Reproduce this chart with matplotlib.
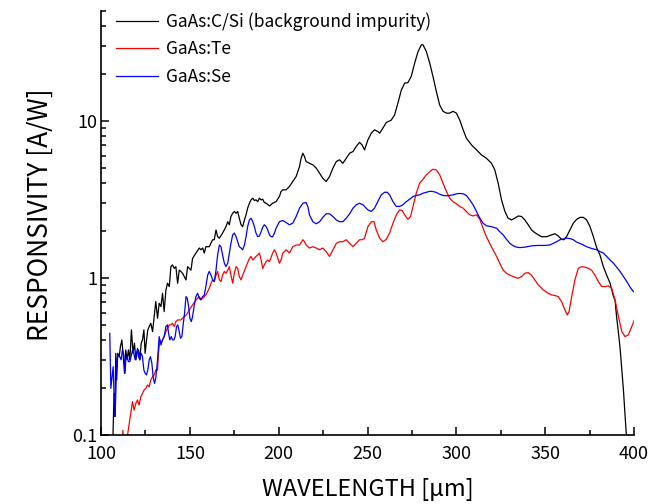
import numpy as np
import matplotlib
matplotlib.use("Agg")
import matplotlib.pyplot as plt
from matplotlib.ticker import MultipleLocator, FixedLocator, LogLocator, NullFormatter, FuncFormatter

plt.rcParams['font.family'] = ['Noto Sans CJK JP', 'DejaVu Sans']

# GaAs:C/Si (background impurity) - black
lam_csi = [106.5, 107.3, 107.7, 108.3, 108.8, 109.4, 110.2, 110.9, 111.7, 112.4, 113.2, 113.9,
           114.7, 115.4, 116.2, 117.1, 118.0, 118.8, 119.6, 120.3, 121.1, 121.8, 122.6, 123.3,
           124.1, 124.8, 125.6, 126.3, 127.1, 128.0, 129.0, 129.9, 130.8, 131.8, 132.7, 133.7,
           134.6, 135.5, 136.5, 137.4, 138.4, 139.3, 140.2, 141.2, 142.1, 143.1, 144.0, 144.9,
           145.9, 146.8, 147.8, 148.7, 149.6, 150.6, 151.5, 153.4, 155.3, 156.2, 157.2, 158.1,
           159.0, 160.9, 162.8, 163.7, 164.7, 165.6, 166.6, 168.4, 170.3, 171.3, 172.2, 173.1,
           174.1, 175.0, 176.0, 176.9, 177.8, 178.8, 179.7, 180.7, 181.6, 182.5, 183.5, 184.4,
           185.4, 186.3, 187.2, 188.2, 189.1, 190.1, 191.0, 191.9, 192.9, 194.8, 196.6, 198.5,
           200.4, 201.3, 202.3, 204.2, 206.0, 207.9, 209.8, 211.7, 212.6, 213.6, 214.5, 215.4,
           217.3, 219.2, 221.1, 223.0, 224.8, 226.7, 228.6, 230.5, 232.4, 234.2, 236.1, 238.0,
           239.9, 241.8, 243.6, 245.5, 247.0, 248.3, 250.2, 252.1, 253.9, 255.8, 256.8, 258.6,
           260.5, 263.3, 265.2, 267.1, 269.0, 270.9, 272.7, 274.6, 276.5, 278.4, 280.3, 281.2,
           283.1, 285.0, 286.8, 288.7, 290.6, 292.5, 294.4, 296.2, 298.1, 300.0, 301.9, 303.8,
           305.6, 308.5, 311.3, 314.1, 316.9, 319.7, 321.6, 323.5, 325.4, 327.3, 329.1, 331.0,
           332.9, 334.8, 336.7, 338.5, 340.4, 342.3, 344.2, 346.1, 347.9, 350.8, 353.6, 355.5,
           357.3, 359.2, 360.5, 362.0, 363.9, 365.8, 367.7, 369.6, 371.4, 373.3, 375.2, 377.1,
           379.0, 380.8, 382.7, 384.6, 386.5, 388.4, 389.3, 390.2, 391.2, 392.2, 393.0, 394.0,
           395.5, 396.2]
r_csi = [0.08, 0.184, 0.131, 0.331, 0.224, 0.331, 0.315, 0.365, 0.403, 0.331, 0.247, 0.348,
         0.301, 0.348, 0.301, 0.467, 0.331, 0.384, 0.301, 0.331, 0.348, 0.301, 0.384, 0.403,
         0.467, 0.331, 0.403, 0.467, 0.490, 0.514, 0.455, 0.567, 0.707, 0.553, 0.690, 0.657,
         0.798, 0.610, 0.839, 0.925, 0.881, 1.18, 1.21, 1.15, 1.18, 0.925, 1.12, 1.10,
         1.07, 1.02, 0.97, 1.18, 1.15, 1.12, 1.33, 1.44, 1.55, 1.51, 1.55, 1.44,
         1.58, 1.58, 1.75, 1.75, 2.02, 1.83, 1.79, 1.93, 2.12, 2.28, 2.18, 2.46,
         2.58, 2.65, 2.58, 2.65, 2.40, 2.18, 2.12, 2.34, 2.52, 2.78, 2.99, 3.14,
         3.22, 3.11, 3.14, 3.06, 3.22, 3.14, 3.17, 3.02, 2.99, 2.87, 2.99, 3.06,
         3.30, 3.55, 3.64, 3.64, 3.82, 4.11, 4.42, 5.12, 5.78, 6.22, 5.93, 5.51,
         5.37, 5.25, 5.00, 4.64, 4.31, 4.11, 4.42, 5.00, 5.51, 5.65, 5.37, 5.78,
         6.22, 6.38, 6.87, 7.30, 7.00, 6.54, 7.57, 8.35, 8.77, 8.55, 8.35, 8.98,
         9.75, 10.1, 10.9, 13.0, 15.7, 17.4, 17.5, 19.2, 23.3, 27.6, 30.5, 30.5,
         27.6, 23.3, 19.2, 15.4, 12.6, 11.5, 11.2, 11.2, 11.5, 11.2, 10.1, 8.77,
         7.76, 7.03, 6.54, 6.07, 5.78, 5.38, 4.88, 4.01, 3.14, 2.65, 2.40, 2.34,
         2.40, 2.48, 2.46, 2.34, 2.18, 2.02, 1.94, 1.88, 1.83, 1.83, 1.88, 1.91,
         1.85, 1.76, 1.75, 1.83, 2.02, 2.23, 2.36, 2.43, 2.43, 2.34, 2.12, 1.83,
         1.55, 1.40, 1.18, 1.04, 0.925, 0.76, 0.72, 0.56, 0.45, 0.35, 0.27, 0.194,
         0.107, 0.08]

# GaAs:Te - red
lam_te = [111.8, 112.3, 112.8, 114.0, 114.9, 116.2, 117.7, 118.6, 119.6, 120.5, 121.4, 122.4,
          123.3, 124.3, 125.2, 126.1, 127.1, 128.0, 129.0, 129.9, 130.8, 131.8, 132.3, 133.1,
          133.8, 134.6, 135.5, 136.5, 137.4, 138.4, 139.3, 140.2, 141.2, 142.1, 143.1, 144.9,
          146.8, 148.1, 149.6, 151.5, 153.4, 155.3, 156.2, 157.2, 159.0, 160.9, 161.9, 162.8,
          163.7, 164.7, 165.6, 166.6, 167.5, 168.4, 169.4, 170.3, 171.3, 172.2, 173.1, 174.1,
          175.0, 176.0, 176.9, 177.8, 178.8, 179.7, 181.6, 183.5, 184.4, 185.4, 187.2, 188.2,
          189.1, 190.1, 191.0, 191.9, 192.9, 193.8, 194.8, 196.6, 197.6, 198.5, 200.4, 201.3,
          202.3, 203.2, 204.2, 206.0, 207.9, 209.8, 211.7, 213.6, 214.5, 215.4, 217.3, 219.2,
          221.1, 223.0, 224.8, 226.7, 228.6, 230.5, 232.4, 234.2, 236.1, 238.0, 239.9, 241.8,
          243.6, 245.5, 247.0, 248.3, 250.2, 252.1, 253.6, 254.9, 256.8, 258.6, 260.5, 262.4,
          264.3, 266.2, 268.0, 269.4, 270.9, 272.7, 274.2, 275.6, 277.4, 279.3, 281.2, 283.1,
          285.0, 286.8, 288.7, 290.6, 292.5, 294.4, 296.2, 298.1, 300.0, 301.9, 303.8, 305.6,
          307.5, 309.4, 311.3, 313.2, 315.0, 316.9, 319.7, 322.6, 324.4, 326.3, 328.2, 330.1,
          332.9, 334.8, 336.7, 338.5, 340.4, 342.3, 344.2, 346.1, 348.9, 351.7, 353.6, 355.5,
          357.3, 359.2, 361.1, 362.4, 363.4, 364.9, 366.7, 368.6, 370.5, 372.4, 374.3, 376.1,
          378.0, 379.9, 381.8, 383.7, 385.5, 387.4, 389.3, 391.2, 393.1, 394.9, 396.8, 398.7,
          400.2]
r_te = [0.085, 0.107, 0.08, 0.07, 0.1, 0.125, 0.163, 0.144, 0.159, 0.167, 0.155, 0.175,
        0.184, 0.194, 0.198, 0.208, 0.203, 0.224, 0.235, 0.241, 0.259, 0.259, 0.331, 0.403,
        0.384, 0.403, 0.423, 0.455, 0.478, 0.502, 0.502, 0.514, 0.490, 0.527, 0.540, 0.540,
        0.567, 0.581, 0.625, 0.673, 0.724, 0.760, 0.732, 0.742, 0.779, 0.859, 0.925, 0.971,
        0.948, 1.04, 1.10, 0.971, 0.948, 1.04, 1.10, 1.07, 1.12, 1.18, 1.04, 0.925,
        1.07, 1.18, 1.15, 1.02, 0.971, 1.04, 1.18, 1.33, 1.37, 1.30, 1.37, 1.40,
        1.44, 1.30, 1.15, 1.21, 1.27, 1.30, 1.27, 1.44, 1.51, 1.44, 1.24, 1.30,
        1.44, 1.47, 1.51, 1.44, 1.58, 1.62, 1.62, 1.75, 1.70, 1.62, 1.55, 1.58,
        1.55, 1.51, 1.55, 1.47, 1.37, 1.51, 1.66, 1.70, 1.70, 1.75, 1.66, 1.58,
        1.66, 1.75, 1.75, 1.79, 2.12, 2.28, 2.28, 2.02, 1.79, 1.70, 1.76, 1.93,
        2.23, 2.52, 2.71, 2.69, 2.52, 2.36, 2.46, 2.85, 3.46, 4.01, 4.25, 4.53,
        4.75, 4.92, 4.87, 4.53, 4.01, 3.55, 3.22, 3.06, 2.96, 2.85, 2.78, 2.65,
        2.52, 2.48, 2.52, 2.36, 2.07, 1.83, 1.58, 1.37, 1.24, 1.12, 1.07, 1.04,
        1.01, 0.995, 1.02, 1.07, 1.08, 1.04, 0.97, 0.902, 0.839, 0.798, 0.779, 0.772,
        0.760, 0.707, 0.625, 0.581, 0.610, 0.760, 0.97, 1.15, 1.18, 1.17, 1.15, 1.12,
        1.04, 0.948, 0.881, 0.881, 0.889, 0.859, 0.724, 0.567, 0.455, 0.423, 0.434, 0.490,
        0.540]

# GaAs:Se - blue
lam_se = [104.9, 105.5, 106.0, 106.8, 107.3, 107.9, 108.3, 108.8, 109.6, 110.5, 111.3, 112.0,
          112.8, 113.5, 113.9, 114.7, 115.4, 116.2, 116.9, 117.7, 118.4, 119.2, 119.9, 120.5,
          121.1, 121.8, 122.6, 123.3, 124.1, 124.8, 125.6, 126.3, 127.1, 127.8, 128.6, 129.3,
          130.1, 130.8, 131.8, 132.7, 133.7, 134.6, 135.5, 136.5, 137.4, 138.0, 138.7, 139.5,
          140.2, 141.0, 141.7, 142.5, 143.2, 144.0, 144.7, 145.5, 146.2, 147.0, 147.8, 148.5,
          149.3, 150.0, 150.8, 151.5, 152.5, 153.4, 154.3, 155.3, 156.2, 157.2, 158.1, 159.0,
          160.0, 160.9, 161.9, 162.8, 163.7, 164.7, 165.6, 166.6, 167.5, 168.4, 169.4, 170.3,
          171.3, 172.2, 173.1, 174.1, 175.0, 176.0, 176.9, 177.8, 178.8, 179.7, 180.7, 181.6,
          182.5, 183.5, 184.4, 185.4, 186.3, 187.2, 188.2, 189.1, 190.1, 191.0, 191.9, 192.9,
          193.8, 194.8, 195.7, 196.6, 197.6, 198.5, 200.4, 202.3, 204.2, 206.0, 207.9, 209.8,
          211.7, 213.6, 215.4, 216.4, 217.3, 219.2, 221.1, 223.0, 224.8, 226.7, 228.6, 230.5,
          232.4, 234.2, 236.1, 238.0, 239.9, 241.8, 243.6, 245.5, 247.4, 250.2, 252.1, 253.9,
          255.8, 257.7, 259.6, 261.1, 262.4, 264.3, 266.2, 268.0, 269.9, 271.8, 273.7, 275.6,
          277.4, 279.3, 281.2, 283.1, 285.0, 286.8, 288.7, 290.6, 292.5, 294.4, 296.2, 298.1,
          300.0, 301.9, 303.8, 305.6, 307.5, 309.4, 311.3, 313.2, 315.0, 316.9, 319.7, 322.6,
          324.4, 326.3, 328.2, 330.1, 332.0, 333.8, 335.7, 338.5, 342.3, 346.1, 349.8, 352.6,
          354.5, 356.4, 358.3, 360.2, 362.0, 363.9, 365.8, 367.7, 370.5, 373.3, 376.1, 379.0,
          380.8, 382.7, 384.6, 386.5, 388.4, 390.2, 392.1, 394.0, 395.9, 397.8, 399.6]
r_se = [0.444, 0.198, 0.224, 0.272, 0.184, 0.131, 0.184, 0.301, 0.323, 0.315, 0.301, 0.348,
        0.323, 0.247, 0.301, 0.315, 0.293, 0.293, 0.315, 0.348, 0.331, 0.301, 0.331, 0.356,
        0.315, 0.301, 0.331, 0.315, 0.259, 0.247, 0.241, 0.259, 0.301, 0.315, 0.286, 0.235,
        0.213, 0.230, 0.301, 0.423, 0.374, 0.403, 0.423, 0.490, 0.502, 0.444, 0.403, 0.423,
        0.403, 0.403, 0.423, 0.490, 0.502, 0.455, 0.413, 0.423, 0.502, 0.596, 0.760, 0.742,
        0.657, 0.553, 0.527, 0.567, 0.673, 0.760, 0.798, 0.742, 0.724, 0.760, 0.779, 0.881,
        1.04, 1.10, 1.04, 0.971, 0.948, 1.12, 1.40, 1.62, 1.58, 1.40, 1.24, 1.18,
        1.24, 1.44, 1.66, 1.88, 1.93, 1.83, 1.70, 1.58, 1.55, 1.51, 1.62, 1.83,
        2.12, 2.34, 2.40, 2.28, 2.12, 1.93, 1.83, 1.85, 1.97, 2.10, 2.18, 2.12,
        2.02, 1.88, 1.83, 1.83, 1.93, 2.07, 2.28, 2.32, 2.25, 2.18, 2.23, 2.46,
        2.78, 2.99, 3.02, 2.85, 2.52, 2.28, 2.21, 2.28, 2.43, 2.56, 2.56, 2.46,
        2.34, 2.28, 2.28, 2.40, 2.56, 2.78, 2.92, 2.99, 2.92, 2.71, 2.65, 2.78,
        3.06, 3.38, 3.51, 3.51, 3.38, 3.06, 2.85, 2.85, 2.92, 3.06, 3.17, 3.30,
        3.35, 3.38, 3.46, 3.51, 3.56, 3.55, 3.50, 3.41, 3.35, 3.33, 3.35, 3.38,
        3.43, 3.45, 3.43, 3.35, 3.14, 2.92, 2.65, 2.40, 2.23, 2.15, 2.12, 2.07,
        1.97, 1.88, 1.76, 1.66, 1.60, 1.57, 1.56, 1.57, 1.60, 1.61, 1.61, 1.62,
        1.66, 1.70, 1.75, 1.77, 1.79, 1.78, 1.75, 1.69, 1.64, 1.58, 1.54, 1.51,
        1.47, 1.44, 1.37, 1.30, 1.24, 1.17, 1.10, 1.02, 0.948, 0.872, 0.818]

fig = plt.figure(figsize=(6.52, 5.04), dpi=100)
ax = fig.add_axes([0.155, 0.137, 0.8175, 0.841])

ax.plot(lam_csi, r_csi, color='black', lw=0.9, label='GaAs:C/Si (background impurity)')
ax.plot(lam_te, r_te, color='#ff0000', lw=0.9, label='GaAs:Te')
ax.plot(lam_se, r_se, color='#0000ff', lw=0.9, label='GaAs:Se')

ax.set_yscale('log')
ax.set_xlim(100, 400)
ax.set_ylim(0.1, 50)

ax.xaxis.set_major_locator(MultipleLocator(50))
ax.xaxis.set_minor_locator(MultipleLocator(25))
ax.yaxis.set_major_locator(FixedLocator([0.1, 1, 10]))
ax.yaxis.set_major_formatter(FuncFormatter(lambda v, p: f'{v:g}'))
ax.yaxis.set_minor_locator(LogLocator(base=10, subs=np.arange(2, 10), numticks=20))
ax.yaxis.set_minor_formatter(NullFormatter())

for s in ['top', 'right']:
    ax.spines[s].set_visible(False)
for s in ['left', 'bottom']:
    ax.spines[s].set_linewidth(1.2)

ax.tick_params(which='major', direction='in', length=6, width=1.1, labelsize=13)
ax.tick_params(which='minor', direction='in', length=3.5, width=1.1)
ax.tick_params(axis='x', which='major', pad=7)
ax.tick_params(axis='y', which='major', pad=3)

ax.set_xlabel('WAVELENGTH [μm]', fontsize=17, labelpad=11)
ax.set_ylabel('RESPONSIVITY [A/W]', fontsize=19, labelpad=13)
ax.yaxis.label.set_y(0.52)

ax.legend(loc='upper left', bbox_to_anchor=(0.028, 0.998), frameon=False, fontsize=12.5,
          handlelength=2.4, handletextpad=0.5, labelspacing=0.55, borderpad=0, borderaxespad=0)

fig.savefig('out.png', dpi=100)
